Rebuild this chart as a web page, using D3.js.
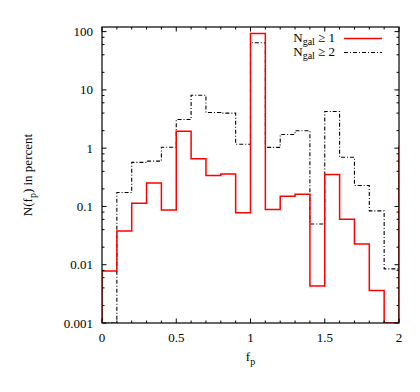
<!DOCTYPE html>
<html>
<head>
<meta charset="utf-8">
<script src="https://cdn.jsdelivr.net/npm/d3@7"></script>
<style>
  body { margin: 0; background: #fff; }
  svg text { font-size: 13px; fill: #000; }
</style>
</head>
<body>
<div class="chart"></div>
<script>
// bin edges start at 0, width 0.1; null = empty bin (drawn on the bottom axis)
const binWidth = 0.1;
const ngal1 = [0.0078, 0.038, 0.114, 0.253, 0.087, 1.96, 0.66, 0.34, 0.36, 0.078,
               92.7, 0.089, 0.15, 0.162, 0.0043, 0.352, 0.06, 0.0227, 0.0036, null];
const ngal1Next = 1.07;   // first bin past f_p = 2, only its left edge shows
const ngal2 = [null, 0.173, 0.57, 0.6, 1.04, 3.1, 8.1, 4.09, 4.0, 1.17,
               64.4, 1.03, 1.72, 1.99, 0.05, 4.26, 0.70, 0.229, 0.084, 0.0085];
const xTicks = [0, 0.5, 1, 1.5, 2];
const yTicks = [0.001, 0.01, 0.1, 1, 10, 100];

const width = 420, height = 392;
const margin = {top: 27, right: 21, bottom: 69, left: 102};

const svg = d3.select('.chart').append('svg')
  .attr('width', width)
  .attr('height', height)
  .style('font-family', '"Liberation Serif", "Tinos", "Nimbus Roman", "DejaVu Serif", serif');

const x = d3.scaleLinear().domain([0, 2]).range([margin.left, width - margin.right]);
const y = d3.scaleLog().domain([0.001, 120]).range([height - margin.bottom, margin.top]);
const yMin = y.domain()[0];

svg.append('clipPath').attr('id', 'plot-clip')
  .append('rect')
  .attr('x', x(0)).attr('y', y(120))
  .attr('width', x(2) - x(0)).attr('height', y(yMin) - y(120));

// turn bin values into step points
function stepPoints(values, nextValue) {
  const pts = [{f: 0, v: yMin}];
  values.forEach((v, i) => pts.push({f: i * binWidth, v: v == null ? yMin : v}));
  if (nextValue != null) {
    pts.push({f: values.length * binWidth, v: nextValue});
    pts.push({f: (values.length + 1) * binWidth, v: nextValue});
  } else {
    pts.push({f: values.length * binWidth, v: pts[pts.length - 1].v});
  }
  return pts;
}

const line = d3.line()
  .x(d => x(d.f))
  .y(d => y(Math.max(d.v, yMin)))
  .curve(d3.curveStepAfter);

const plot = svg.append('g').attr('clip-path', 'url(#plot-clip)');

plot.append('path')
  .datum(stepPoints(ngal2, null))
  .attr('d', line)
  .attr('fill', 'none')
  .attr('stroke', '#000')
  .attr('stroke-width', 1.1)
  .attr('stroke-dasharray', '4,2,1,2');

plot.append('path')
  .datum(stepPoints(ngal1, ngal1Next))
  .attr('d', line)
  .attr('fill', 'none')
  .attr('stroke', '#ff0000')
  .attr('stroke-width', 1.5);

// frame
svg.append('rect')
  .attr('x', x(0)).attr('y', y(120))
  .attr('width', x(2) - x(0)).attr('height', y(yMin) - y(120))
  .attr('fill', 'none')
  .attr('stroke', '#000')
  .attr('stroke-width', 1.2);

// ticks, drawn inward on all four sides
const ticks = svg.append('g').attr('stroke', '#000').attr('stroke-width', 1);
const minorX = d3.range(0, 21).map(i => i / 10);
minorX.forEach(f => {
  const major = xTicks.some(t => Math.abs(t - f) < 1e-9);
  const len = major ? 4.5 : 2.5;
  ticks.append('line').attr('x1', x(f)).attr('x2', x(f))
    .attr('y1', y(yMin)).attr('y2', y(yMin) - len);
  ticks.append('line').attr('x1', x(f)).attr('x2', x(f))
    .attr('y1', y(120)).attr('y2', y(120) + len);
});

const minorY = [];
yTicks.forEach(t => [2, 4, 6, 8].forEach(m => { if (t * m < 120) minorY.push(t * m); }));
yTicks.forEach(t => {
  ticks.append('line').attr('x1', x(0)).attr('x2', x(0) + 4.5).attr('y1', y(t)).attr('y2', y(t));
  ticks.append('line').attr('x1', x(2)).attr('x2', x(2) - 4.5).attr('y1', y(t)).attr('y2', y(t));
});
minorY.forEach(t => {
  ticks.append('line').attr('x1', x(0)).attr('x2', x(0) + 2.5).attr('y1', y(t)).attr('y2', y(t));
  ticks.append('line').attr('x1', x(2)).attr('x2', x(2) - 2.5).attr('y1', y(t)).attr('y2', y(t));
});

// tick labels
svg.append('g').selectAll('text')
  .data(xTicks).enter().append('text')
  .attr('x', d => x(d))
  .attr('y', y(yMin) + 19)
  .attr('text-anchor', 'middle')
  .text(d => d);

svg.append('g').selectAll('text')
  .data(yTicks).enter().append('text')
  .attr('x', x(0) - 9)
  .attr('y', d => y(d) + 4.5)
  .attr('text-anchor', 'end')
  .text(d => d);

// axis titles
const xTitle = svg.append('text')
  .attr('x', (x(0) + x(2)) / 2)
  .attr('y', 361)
  .attr('text-anchor', 'middle');
xTitle.append('tspan').text('f');
xTitle.append('tspan').attr('dy', 4).attr('font-size', 10).text('p');

const yTitle = svg.append('text')
  .attr('transform', `translate(32, ${(y(yMin) + y(120)) / 2}) rotate(-90)`)
  .attr('text-anchor', 'middle');
yTitle.append('tspan').text('N(f');
yTitle.append('tspan').attr('dy', 4).attr('font-size', 10).text('p');
yTitle.append('tspan').attr('dy', -4).text(') in percent');

// legend
const legend = [
  {sub: 'gal', rest: ' \u2265 1', color: '#ff0000', dash: null, w: 1.5},
  {sub: 'gal', rest: ' \u2265 2', color: '#000', dash: '4,2,1,2', w: 1.1}
];
legend.forEach((d, i) => {
  const by = 42 + i * 14;
  const t = svg.append('text').attr('x', 335).attr('y', by).attr('text-anchor', 'end');
  t.append('tspan').text('N');
  t.append('tspan').attr('dy', 3).attr('font-size', 10).text(d.sub);
  t.append('tspan').attr('dy', -3).text(d.rest);
  svg.append('line')
    .attr('x1', 344).attr('x2', 382)
    .attr('y1', by - 3.5).attr('y2', by - 3.5)
    .attr('stroke', d.color)
    .attr('stroke-width', d.w)
    .attr('stroke-dasharray', d.dash);
});
</script>
</body>
</html>
